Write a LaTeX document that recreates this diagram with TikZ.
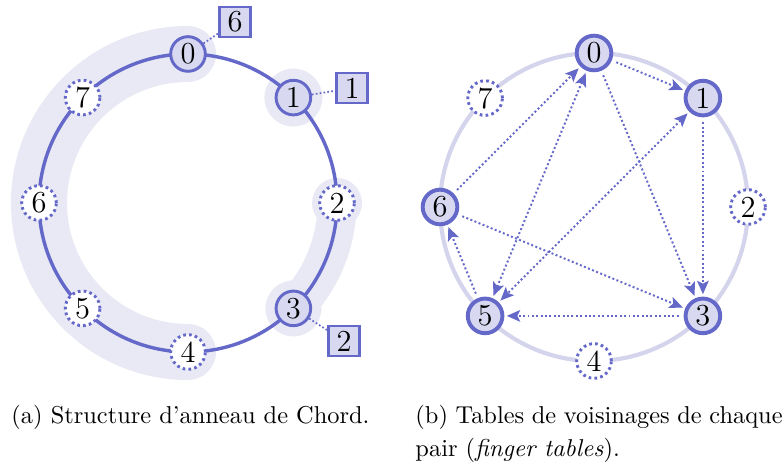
\documentclass[tikz,border=0pt]{standalone}
\usetikzlibrary{arrows.meta}
\definecolor{cblue}{RGB}{100,104,200}
\definecolor{cfill}{RGB}{216,216,240}
\definecolor{cblob}{RGB}{233,233,245}
\definecolor{cring}{RGB}{212,212,236}
\begin{document}
\begin{tikzpicture}[x=0.41pt,y=0.41pt,
  member/.style={circle, draw=cblue, fill=cfill, line width=1.2pt, minimum size=14.2pt, inner sep=0pt, font=\fontsize{12.5}{14}\selectfont},
  free/.style={circle, draw=cblue, fill=white, line width=1.2pt, dash pattern=on 1.1pt off 1.3pt, minimum size=14.2pt, inner sep=0pt, font=\fontsize{12.5}{14}\selectfont},
  memberb/.style={member, line width=1.6pt},
  freeb/.style={free},
  keybox/.style={rectangle, draw=cblue, fill=cfill, line width=1.1pt, minimum width=12.8pt, minimum height=12.2pt, inner sep=0pt, font=\fontsize{12.5}{14}\selectfont},
  link/.style={cblue, line width=0.7pt, dash pattern=on 0.7pt off 0.9pt},
  finger/.style={cblue, line width=0.8pt, dash pattern=on 0.8pt off 1pt, -{Stealth[length=5.5pt,width=4.8pt,inset=1.2pt]}, shorten >=1pt, shorten <=2pt},
  fingerboth/.style={finger, {Stealth[length=5.5pt,width=4.8pt,inset=1.2pt]}-{Stealth[length=5.5pt,width=4.8pt,inset=1.2pt]}, shorten <=1pt}
]
\useasboundingbox (0,0) rectangle (784,468);

% ---------- (a) ----------
\coordinate (L) at (188,265);
\draw[cblob, line width=23pt, line cap=round] (188,414) arc[start angle=90, end angle=270, radius=149];
\fill[cblob] (293.4,370.4) circle[radius=29];
\draw[cblob, line width=16pt, line cap=round] (337,265) arc[start angle=0, end angle=-45, radius=149];
\fill[cblob] (337,265) circle[radius=25];
\fill[cblob] (293.4,159.6) circle[radius=28];
\draw[cblue, line width=1.4pt] (L) circle[radius=149];

\node[member] (a0) at (188,414) {0};
\node[member] (a1) at (293.4,370.4) {1};
\node[free]   (a2) at (337,265) {2};
\node[member] (a3) at (293.4,159.6) {3};
\node[free]   (a4) at (188,116) {4};
\node[free]   (a5) at (82.6,159.6) {5};
\node[free]   (a6) at (39,265) {6};
\node[free]   (a7) at (82.6,370.4) {7};

\node[keybox] (k6) at (235,446) {6};
\node[keybox] (k1) at (352,380) {1};
\node[keybox] (k2) at (344,127) {2};
\draw[link] (a0) -- (k6);
\draw[link] (a1) -- (k1);
\draw[link] (a3) -- (k2);

% ---------- (b) ----------
\coordinate (R) at (594,261);
\draw[cring, line width=1.7pt] (R) circle[radius=154];
\node[memberb] (b0) at (594,415) {0};
\node[memberb] (b1) at (702.9,369.9) {1};
\node[freeb]   (b2) at (748,261) {2};
\node[memberb] (b3) at (702.9,152.1) {3};
\node[freeb]   (b4) at (594,107) {4};
\node[memberb] (b5) at (485.1,152.1) {5};
\node[memberb] (b6) at (440,261) {6};
\node[freeb]   (b7) at (485.1,369.9) {7};

\draw[finger] (b0) -- (b1);
\draw[finger] (b0) -- (b3);
\draw[fingerboth] (b0) -- (b5);
\draw[finger] (b1) -- (b3);
\draw[fingerboth] (b1) -- (b5);
\draw[finger] (b3) -- (b5);
\draw[finger] (b5) -- (b6);
\draw[finger] (b6) -- (b0);
\draw[finger] (b6) -- (b3);

% ---------- captions ----------
\node[anchor=base west, inner sep=0pt, font={\fontsize{10}{13.3}\selectfont}] (capa) at (11,44) {(a) Structure d'anneau de Chord.};
\node[anchor=base west, inner sep=0pt, text width=150.5pt, align=justify, font={\fontsize{10}{13.3}\selectfont}] (capb) at (415,44) {(b) Tables de voisinages de chaque pair (\textit{finger tables}).};
\end{tikzpicture}
\end{document}
